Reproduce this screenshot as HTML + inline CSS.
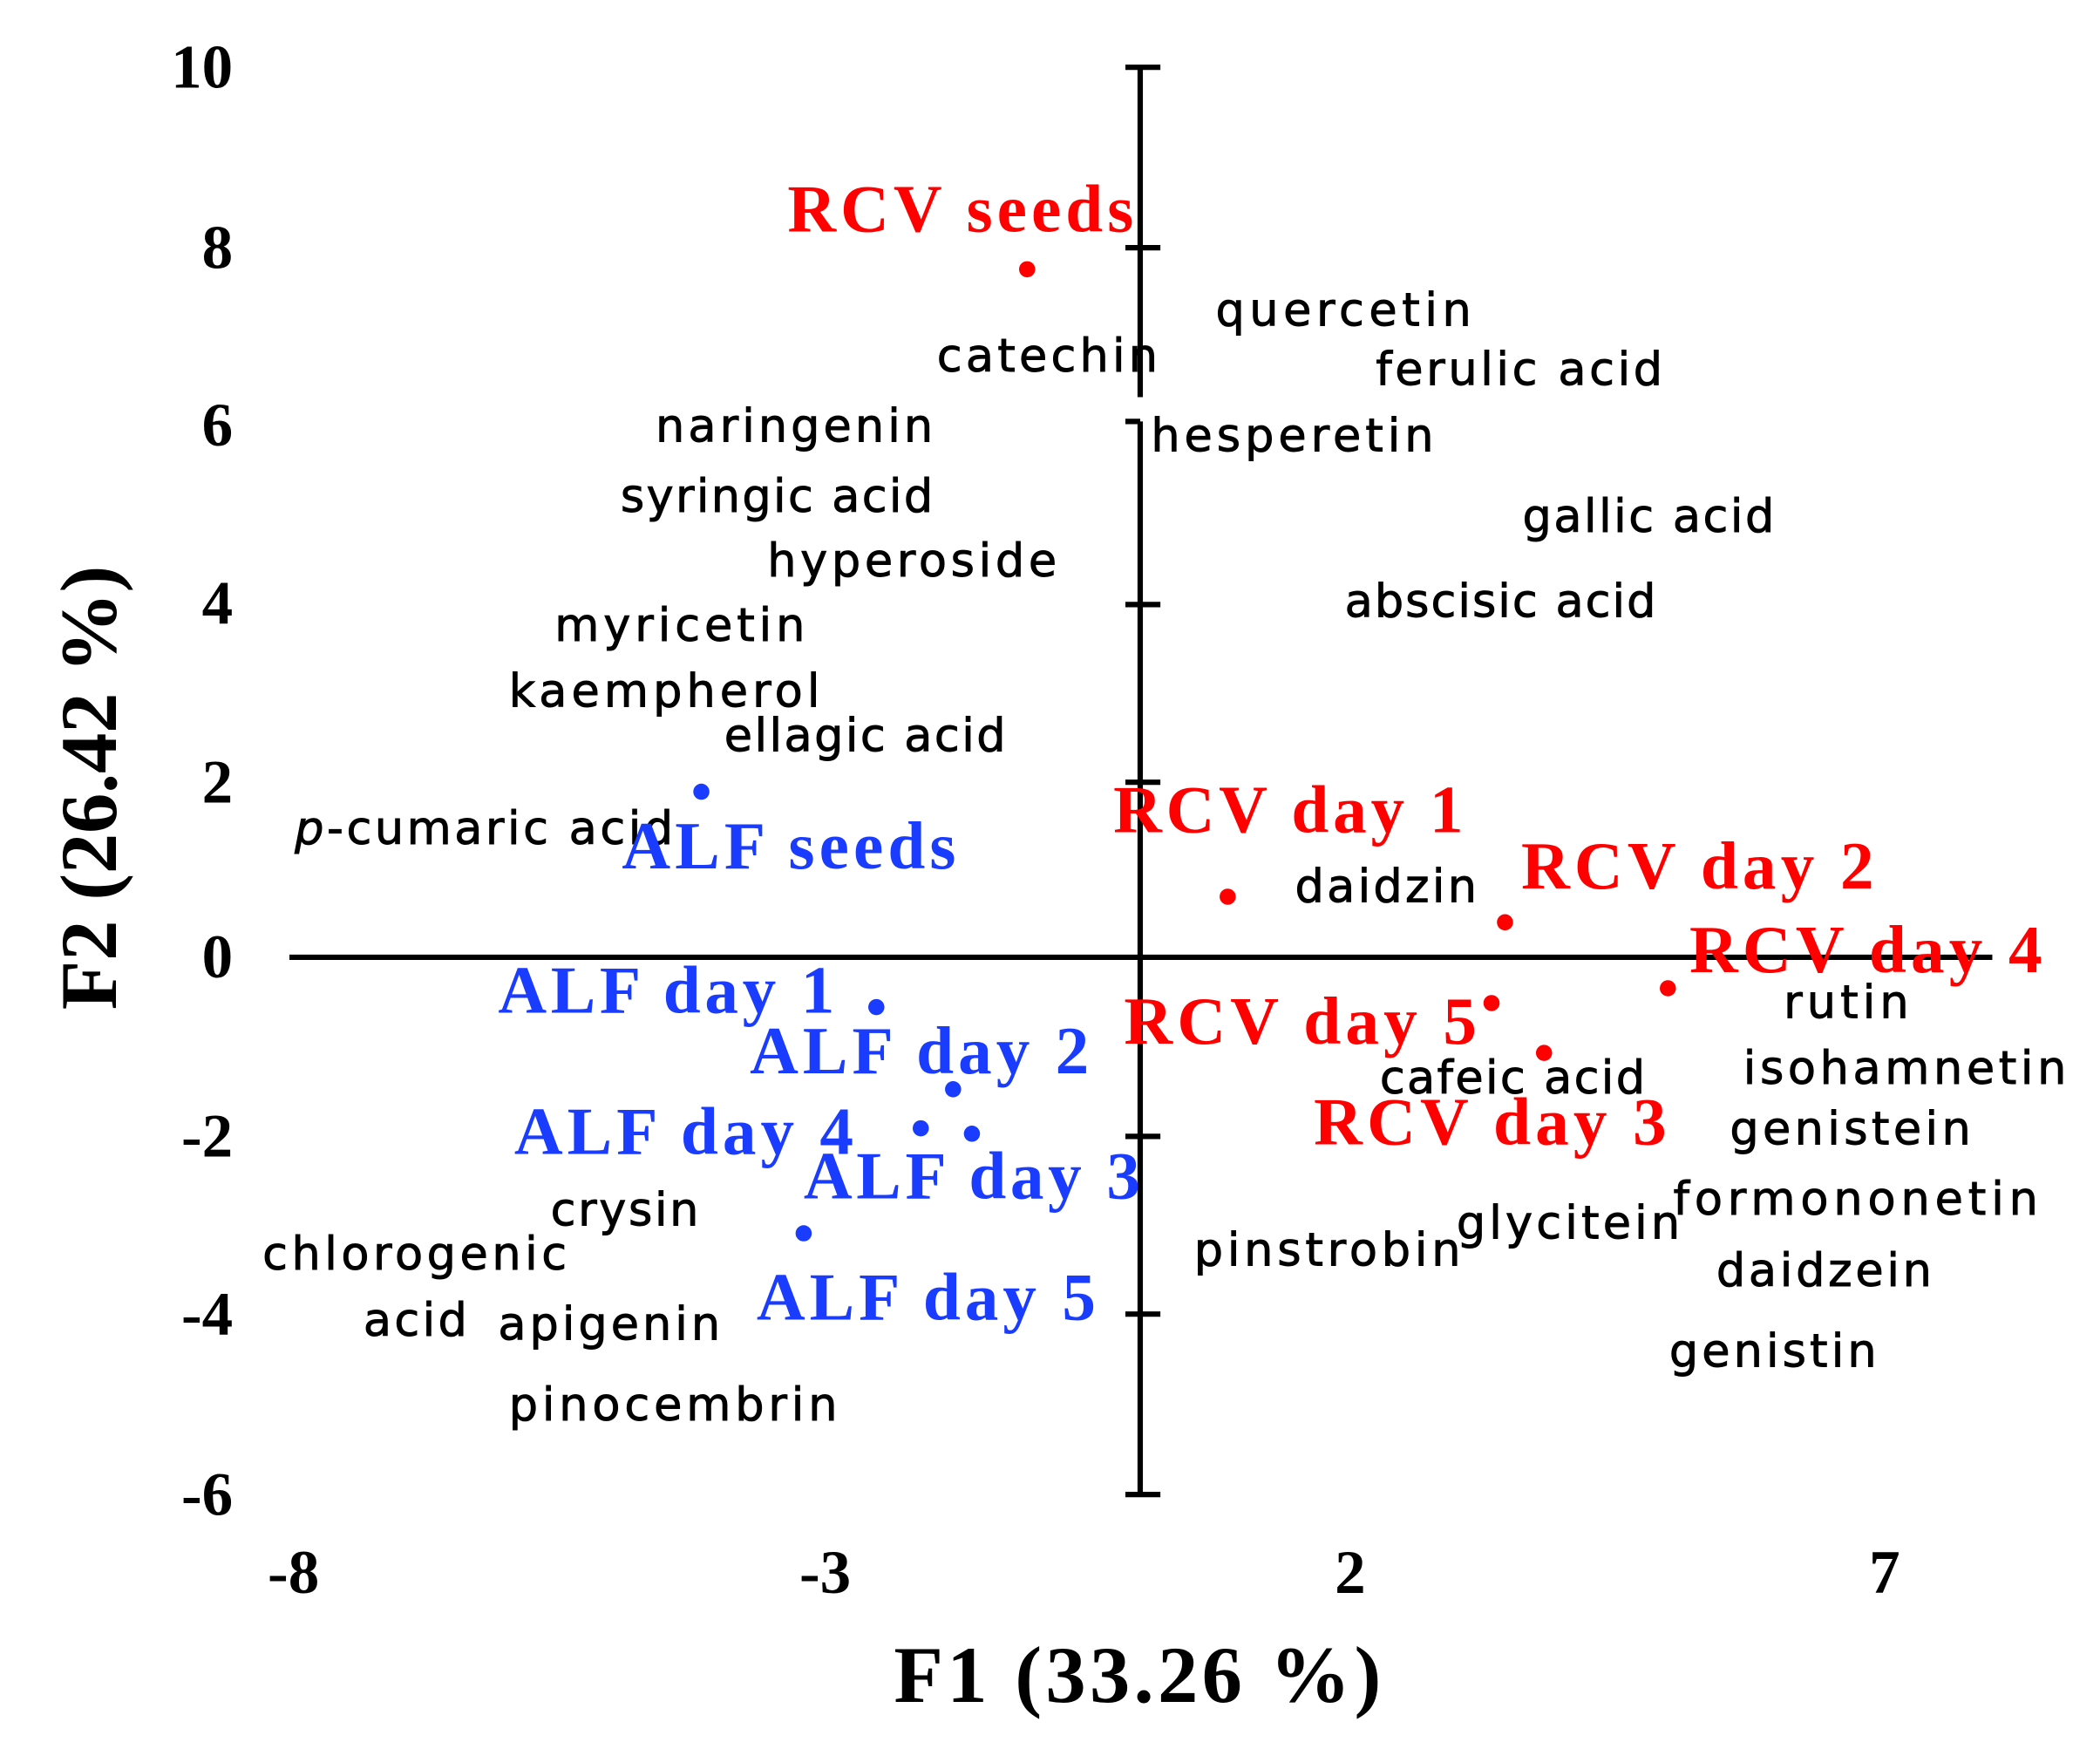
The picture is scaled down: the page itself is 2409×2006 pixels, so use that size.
<!DOCTYPE html>
<html><head><meta charset="utf-8"><style>
html,body{margin:0;padding:0;background:#fff;}
svg{display:block;}
.t{font-family:"Liberation Serif",serif;font-weight:bold;font-size:46px;fill:#000;}
.c{font-family:"DejaVu Sans","Liberation Sans",sans-serif;font-size:34px;fill:#000;stroke:#000;stroke-width:0.6px;}
.r{font-family:"Liberation Serif",serif;font-weight:bold;font-size:50px;fill:#ff0000;}
.b{font-family:"Liberation Serif",serif;font-weight:bold;font-size:50px;fill:#1a3cff;}
</style></head><body>
<svg width="2409" height="2006" viewBox="0 0 1560 1299" preserveAspectRatio="none" xmlns="http://www.w3.org/2000/svg">
<g stroke="#000" stroke-width="4" fill="none">
<line x1="847" y1="50" x2="847" y2="295"/>
<line x1="847" y1="313" x2="847" y2="1110"/>
<line x1="215" y1="711" x2="1480" y2="711"/>
<line x1="836" y1="50" x2="862" y2="50"/>
<line x1="836" y1="184" x2="862" y2="184"/>
<line x1="836" y1="313" x2="847" y2="313"/>
<line x1="836" y1="449" x2="862" y2="449"/>
<line x1="836" y1="581" x2="862" y2="581"/>
<line x1="836" y1="844" x2="862" y2="844"/>
<line x1="836" y1="976" x2="862" y2="976"/>
<line x1="836" y1="1110" x2="862" y2="1110"/>
</g>
<g class="t" text-anchor="end">
<text x="173" y="65">10</text>
<text x="173" y="199">8</text>
<text x="173" y="331">6</text>
<text x="173" y="463">4</text>
<text x="173" y="596">2</text>
<text x="173" y="726">0</text>
<text x="173" y="859">-2</text>
<text x="173" y="991">-4</text>
<text x="173" y="1125">-6</text>
</g>
<g class="t" text-anchor="middle">
<text x="218" y="1183">-8</text>
<text x="613" y="1183">-3</text>
<text x="1003" y="1183">2</text>
<text x="1400" y="1183">7</text>
<text x="845" y="1264" style="font-size:60px" textLength="362">F1 (33.26 %)</text>
<text transform="translate(86,585) rotate(-90)" x="0" y="0" style="font-size:60px" textLength="330">F2 (26.42 %)</text>
</g>
<g fill="#ff0000">
<circle cx="763" cy="200" r="6"/><circle cx="912" cy="666" r="6"/><circle cx="1118" cy="685" r="6"/>
<circle cx="1239" cy="734" r="6"/><circle cx="1108" cy="745" r="6"/><circle cx="1147" cy="782" r="6"/>
</g>
<g fill="#1a3cff">
<circle cx="521" cy="588" r="6"/><circle cx="651" cy="748" r="6"/><circle cx="708" cy="809" r="6"/>
<circle cx="684" cy="838" r="6"/><circle cx="722" cy="842" r="6"/><circle cx="597" cy="916" r="6"/>
</g>
<g class="c">
<text x="903" y="242" textLength="190">quercetin</text>
<text x="696" y="276" textLength="164">catechin</text>
<text x="1022" y="286" textLength="213">ferulic acid</text>
<text x="487" y="328" textLength="206">naringenin</text>
<text x="855" y="335" textLength="210">hesperetin</text>
<text x="461" y="380" textLength="232">syringic acid</text>
<text x="1131" y="395" textLength="187">gallic acid</text>
<text x="570" y="428" textLength="215">hyperoside</text>
<text x="999" y="458" textLength="231">abscisic acid</text>
<text x="412" y="476" textLength="186">myricetin</text>
<text x="378" y="525" textLength="231">kaempherol</text>
<text x="538" y="558" textLength="209">ellagic acid</text>
<text x="219" y="627" textLength="281"><tspan font-style="italic">p</tspan>-cumaric acid</text>
<text x="962" y="670" textLength="135">daidzin</text>
<text x="1325" y="756" textLength="93">rutin</text>
<text x="1295" y="805" textLength="240">isohamnetin</text>
<text x="1025" y="812" textLength="197">cafeic acid</text>
<text x="1285" y="850" textLength="179">genistein</text>
<text x="409" y="910" textLength="110">crysin</text>
<text x="1243" y="902" textLength="271">formononetin</text>
<text x="1082" y="920" textLength="166">glycitein</text>
<text x="195" y="943" textLength="226">chlorogenic</text>
<text x="887" y="940" textLength="198">pinstrobin</text>
<text x="1275" y="955" textLength="160">daidzein</text>
<text x="270" y="992" textLength="77">acid</text>
<text x="370" y="995" textLength="165">apigenin</text>
<text x="1240" y="1015" textLength="154">genistin</text>
<text x="378" y="1055" textLength="244">pinocembrin</text>
</g>
<g class="r">
<text x="585" y="172" textLength="257">RCV seeds</text>
<text x="827" y="618" textLength="260">RCV day 1</text>
<text x="1130" y="660" textLength="262">RCV day 2</text>
<text x="1255" y="722" textLength="262">RCV day 4</text>
<text x="835" y="775" textLength="262">RCV day 5</text>
<text x="976" y="850" textLength="262">RCV day 3</text>
</g>
<g class="b">
<text x="462" y="645" textLength="248">ALF seeds</text>
<text x="370" y="752" textLength="250">ALF day 1</text>
<text x="557" y="797" textLength="252">ALF day 2</text>
<text x="382" y="857" textLength="252">ALF day 4</text>
<text x="597" y="890" textLength="250">ALF day 3</text>
<text x="562" y="980" textLength="252">ALF day 5</text>
</g>
</svg>
</body></html>
